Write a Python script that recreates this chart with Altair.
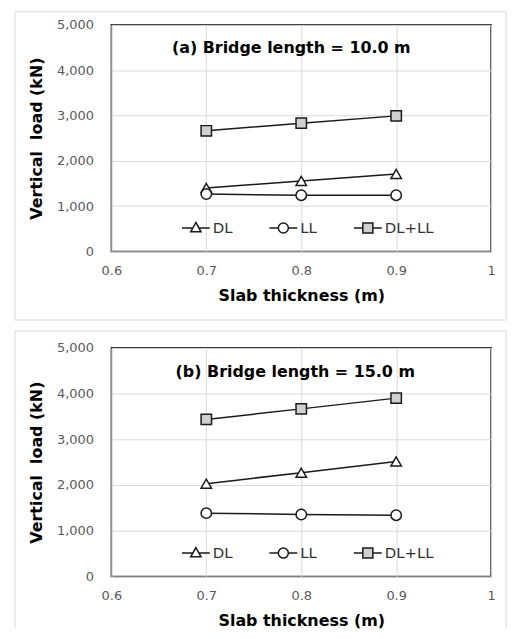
import altair as alt
import pandas as pd

# ---------------- data ----------------
thickness = [0.7, 0.8, 0.9]
series_names = ["DL", "LL", "DL+LL"]

a_dl = [1400, 1555, 1710]
a_ll = [1265, 1240, 1240]
a_total = [2660, 2830, 2990]

b_dl = [2030, 2270, 2515]
b_ll = [1385, 1355, 1340]
b_total = [3435, 3665, 3900]

x_ticks = [0.6, 0.7, 0.8, 0.9, 1.0]
y_ticks = [0, 1000, 2000, 3000, 4000, 5000]
panel_titles = ["(a) Bridge length = 10.0 m", "(b) Bridge length = 15.0 m"]

FONT = "DejaVu Sans"
PW = 382

marker_shapes = ["triangle-up", "circle", "square"]
marker_fills = ["white", "white", "#d0d0d0"]
marker_strokes = ["#1a1a1a", "#1a1a1a", "#1a1a1a"]
legend_shapes = [
    "M-1,0L-0.21,0M0.21,0L1,0M0,-0.4L0.37,0.27L-0.37,0.27Z",
    "M-1,0L-0.36,0M0.36,0L1,0M-0.36,0A0.36,0.36,0,1,0,0.36,0A0.36,0.36,0,1,0,-0.36,0Z",
    "M-1,0L-0.36,0M0.36,0L1,0M-0.36,-0.36L0.36,-0.36L0.36,0.36L-0.36,0.36Z",
]


def make_df(dl, ll, tot):
    rows = []
    for name, vals in zip(series_names, [dl, ll, tot]):
        for t, v in zip(thickness, vals):
            rows.append({"t": t, "load": v, "series": name, "key": name})
    return pd.DataFrame(rows)


def panel(df, title, height, legend_y, title_offset, title_dx, frame_top, full_frame):
    x = alt.X("t:Q", scale=alt.Scale(domain=[0.6, 1.0], nice=False),
              axis=alt.Axis(values=x_ticks, format="~g", title="Slab thickness (m)",
                            titlePadding=10, labelPadding=13, labelFlush=False))
    y = alt.Y("load:Q", scale=alt.Scale(domain=[0, 5000], nice=False),
              axis=alt.Axis(values=y_ticks, format=",.0f", title="Vertical\u00a0 load (kN)",
                            titlePadding=12, labelPadding=18, labelFlush=False))

    if full_frame:
        frame = alt.Chart(alt.Data(values=[{"f": 0}])).mark_rect(
            fillOpacity=0, stroke="#d9d9d9", strokeWidth=1
        ).encode(x=alt.value(-97), x2=alt.value(PW + 15),
                 y=alt.value(frame_top), y2=alt.value(height + 69))
        frames = [frame]
    else:
        fd = alt.Data(values=[{"f": 0}])
        top = alt.Chart(fd).mark_rule(color="#d9d9d9", strokeWidth=1).encode(
            x=alt.value(-97), x2=alt.value(PW + 15), y=alt.value(frame_top))
        left = alt.Chart(fd).mark_rule(color="#d9d9d9", strokeWidth=1).encode(
            x=alt.value(-97), y=alt.value(frame_top), y2=alt.value(height + 52))
        right = alt.Chart(fd).mark_rule(color="#d9d9d9", strokeWidth=1).encode(
            x=alt.value(PW + 15), y=alt.value(frame_top), y2=alt.value(height + 52))
        frames = [top, left, right]

    base = alt.Chart(df)
    lines = base.mark_line(color="#1a1a1a", strokeWidth=1.5).encode(
        x=x, y=y, detail="series:N")
    points = base.mark_point(filled=True, stroke="#1a1a1a", strokeWidth=1.5,
                             opacity=1, size=110).encode(
        x=x, y=y,
        shape=alt.Shape("series:N", scale=alt.Scale(domain=series_names, range=marker_shapes),
                        legend=None),
        fill=alt.Fill("series:N", scale=alt.Scale(domain=series_names, range=marker_fills),
                      legend=None),
    )
    leg = alt.Legend(title=None, orient="none", legendX=70, legendY=legend_y,
                     direction="horizontal", symbolSize=784, symbolStrokeColor="#1a1a1a",
                     symbolStrokeWidth=1.5, symbolOpacity=1, labelFontSize=15, labelFont=FONT,
                     labelColor="#333333", labelOffset=2, columnPadding=34, padding=0)
    legend_layer = base.mark_point(filled=True, strokeWidth=1.5,
                                   opacity=1, size=0).encode(
        x=x, y=y,
        shape=alt.Shape("key:N", scale=alt.Scale(domain=series_names, range=legend_shapes),
                        legend=leg),
        fill=alt.Fill("key:N", scale=alt.Scale(domain=series_names, range=marker_fills),
                      legend=leg),
        stroke=alt.Stroke("key:N", scale=alt.Scale(domain=series_names, range=marker_strokes),
                          legend=leg),
    )
    return alt.layer(*frames, lines, points, legend_layer).resolve_scale(
        shape="independent", fill="independent", stroke="independent"
    ).properties(
        width=PW, height=height,
        title=alt.TitleParams(text=title, font=FONT, fontSize=16, fontWeight="bold",
                              color="black", anchor="middle", frame="group",
                              offset=title_offset, dx=title_dx),
    )


pa = panel(make_df(a_dl, a_ll, a_total), panel_titles[0], 228, 189, -45, -10, -13, True)
pb = panel(make_df(b_dl, b_ll, b_total), panel_titles[1], 230, 191, -50, -6, -17, False)

chart = alt.vconcat(pa, pb, spacing=7).properties(
    padding={"left": 5, "top": 0, "right": 0, "bottom": 0},
    background="white",
).configure_view(stroke="#1a1a1a", strokeWidth=1.5).configure_axis(
    domain=False, ticks=False, grid=True, gridColor="#d9d9d9", gridWidth=1,
    labelFont=FONT, labelFontSize=13, labelColor="#595959",
    titleFont=FONT, titleFontSize=16, titleFontWeight="bold", titleColor="black",
)

chart.save("out.html", embed_options={"renderer": "svg", "actions": False})
